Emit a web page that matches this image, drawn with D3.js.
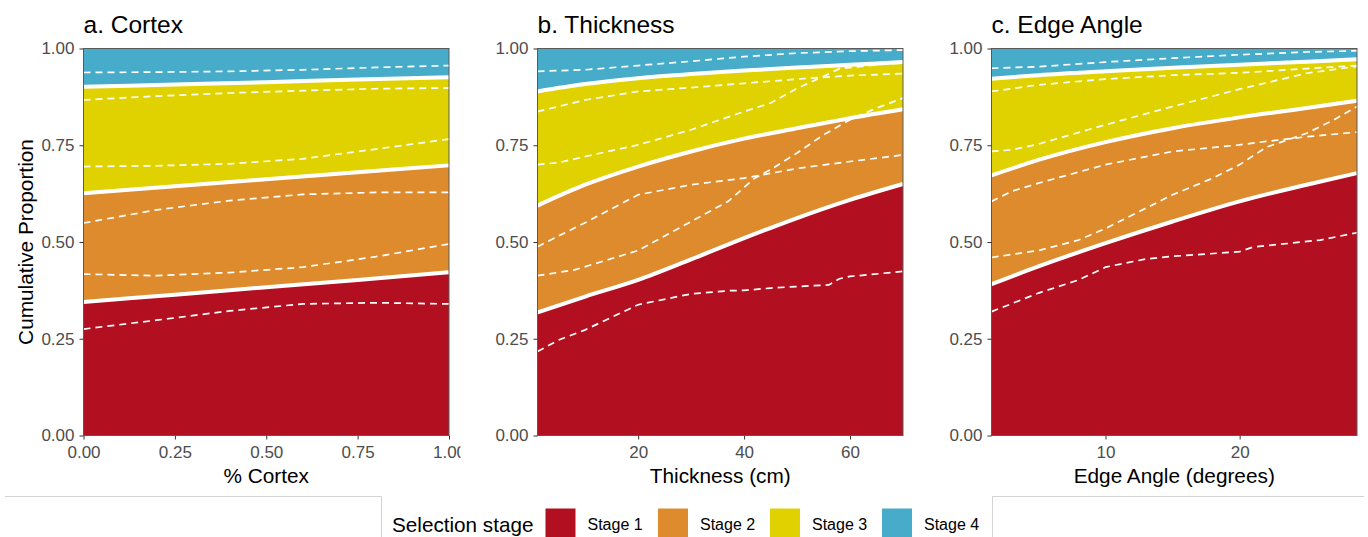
<!DOCTYPE html>
<html>
<head>
<meta charset="utf-8">
<script src="https://cdn.jsdelivr.net/npm/d3@7"></script>
<style>
  body { margin: 0; background: #fff; }
  svg { font-family: "Liberation Sans", Arial, Helvetica, sans-serif; }
  .tick text { fill: #4d4d4d; font-size: 17px; }
  .tick line { stroke: #333; }
</style>
</head>
<body>
<div class="chart"></div>
<script>
// stage names and colours
const stages = ["Stage 1", "Stage 2", "Stage 3", "Stage 4"];
const stageColors = ["#b21020", "#dd8b2c", "#e0d200", "#47acc9"];
const yTicks = [0, 0.25, 0.5, 0.75, 1];

// a. Cortex: fitted cumulative boundaries
const cortexX = [0, 0.25, 0.5, 0.75, 1];
const cortexB1 = [0.345, 0.364, 0.383, 0.402, 0.422];
const cortexB2 = [0.626, 0.644, 0.662, 0.680, 0.698];
const cortexB3 = [0.901, 0.907, 0.913, 0.920, 0.926];
// a. Cortex: dashed interval lines
const cortexDashX = [0, 0.2, 0.4, 0.6, 0.8, 1];
const cortexB1Lo = [0.275, 0.298, 0.322, 0.340, 0.343, 0.340];
const cortexB1Hi = [0.417, 0.413, 0.421, 0.435, 0.462, 0.495];
const cortexB2Lo = [0.549, 0.583, 0.607, 0.623, 0.628, 0.628];
const cortexB2Hi = [0.695, 0.697, 0.702, 0.715, 0.740, 0.766];
const cortexB3Lo = [0.867, 0.877, 0.885, 0.891, 0.896, 0.898];
const cortexB3Hi = [0.938, 0.939, 0.941, 0.945, 0.951, 0.956];

// b. Thickness
const thickX = [1, 10, 20, 30, 40, 50, 60, 70];
const thickB1 = [0.318, 0.359, 0.402, 0.455, 0.510, 0.562, 0.609, 0.650];
const thickB2 = [0.594, 0.648, 0.695, 0.734, 0.767, 0.794, 0.820, 0.843];
const thickB3 = [0.889, 0.908, 0.923, 0.934, 0.943, 0.951, 0.958, 0.965];
const thickB1Lo = [[1,0.217],[5,0.247],[10,0.273],[20,0.338],[30,0.366],[37,0.374],[40,0.375],[45,0.381],[50,0.385],[56,0.389],[58,0.405],[60,0.411],[70,0.424]];
const thickB1Hi = [[1,0.413],[8,0.428],[20,0.478],[30,0.553],[37,0.605],[42,0.665],[45,0.687],[50,0.730],[55,0.777],[60,0.816],[65,0.846],[70,0.872]];
const thickB2Lo = [[1,0.488],[10,0.550],[20,0.622],[30,0.648],[40,0.665],[50,0.690],[60,0.708],[70,0.725]];
const thickB2Hi = [[1,0.700],[5,0.705],[10,0.721],[20,0.751],[30,0.790],[40,0.837],[45,0.859],[50,0.897],[55,0.928],[58,0.948],[65,0.958],[70,0.963]];
const thickB3Lo = [[1,0.837],[10,0.867],[20,0.889],[30,0.899],[40,0.910],[50,0.921],[60,0.930],[70,0.935]];
const thickB3Hi = [[1,0.941],[10,0.945],[20,0.956],[30,0.967],[40,0.979],[50,0.988],[60,0.993],[70,0.996]];

// c. Edge Angle
const angleX = [1.5, 5, 10, 15, 20, 25, 28.75];
const angleB1 = [0.391, 0.437, 0.497, 0.553, 0.605, 0.648, 0.678];
const angleB2 = [0.672, 0.712, 0.758, 0.794, 0.822, 0.846, 0.865];
const angleB3 = [0.922, 0.931, 0.941, 0.950, 0.958, 0.966, 0.972];
const angleB1Lo = [[1.5,0.320],[5,0.368],[8,0.402],[10,0.435],[13,0.456],[15,0.463],[20,0.475],[21,0.487],[23,0.494],[26,0.505],[28.75,0.524]];
const angleB1Hi = [[1.5,0.460],[5,0.478],[8,0.505],[10,0.535],[15,0.622],[18,0.665],[20,0.700],[22,0.745],[25,0.781],[27,0.815],[28.75,0.850]];
const angleB2Lo = [[1.5,0.605],[3,0.631],[5,0.652],[10,0.700],[15,0.734],[20,0.751],[22,0.760],[25,0.772],[28.75,0.784]];
const angleB2Hi = [[1.5,0.734],[3,0.738],[5,0.753],[10,0.803],[15,0.850],[20,0.895],[25,0.936],[28.75,0.954]];
const angleB3Lo = [[1.5,0.889],[5,0.906],[10,0.921],[15,0.931],[20,0.937],[25,0.948],[28.75,0.956]];
const angleB3Hi = [[1.5,0.949],[5,0.953],[10,0.965],[15,0.975],[20,0.984],[25,0.991],[28.75,0.994]];

const zip = (xs, ys) => xs.map((x, i) => [x, ys[i]]);

const panels = [
  { title: "a. Cortex", xlab: "% Cortex", left: 83.5, right: 449, domain: [0, 1],
    xticks: [0, 0.25, 0.5, 0.75, 1], fmt: d3.format(".2f"), clipRight: 460.5,
    fx: cortexX, fit: [cortexB1, cortexB2, cortexB3],
    dashes: [cortexB1Lo, cortexB1Hi, cortexB2Lo, cortexB2Hi, cortexB3Lo, cortexB3Hi].map(v => zip(cortexDashX, v)) },
  { title: "b. Thickness", xlab: "Thickness (cm)", left: 537.5, right: 903, domain: [1, 70],
    xticks: [20, 40, 60], fmt: d3.format("d"), clipRight: 915,
    fx: thickX, fit: [thickB1, thickB2, thickB3],
    dashes: [thickB1Lo, thickB1Hi, thickB2Lo, thickB2Hi, thickB3Lo, thickB3Hi] },
  { title: "c. Edge Angle", xlab: "Edge Angle (degrees)", left: 991.5, right: 1357, domain: [1.5, 28.75],
    xticks: [10, 20], fmt: d3.format("d"), clipRight: 1368,
    fx: angleX, fit: [angleB1, angleB2, angleB3],
    dashes: [angleB1Lo, angleB1Hi, angleB2Lo, angleB2Hi, angleB3Lo, angleB3Hi] }
];

const W = 1368, H = 537;
const plotTop = 48.5, plotBottom = 435.5;

const svg = d3.select(".chart").append("svg")
  .attr("width", W).attr("height", H);

const yScale = d3.scaleLinear().domain([0, 1]).range([plotBottom, plotTop]);

panels.forEach((p, pi) => {
  const xScale = d3.scaleLinear().domain(p.domain).range([p.left, p.right]);
  const g = svg.append("g");

  // each panel's viewport clips its own x labels (as in the original layout)
  svg.append("clipPath")
    .attr("id", "clip" + pi)
    .append("rect")
    .attr("x", 0).attr("y", 0)
    .attr("width", p.clipRight).attr("height", H);

  // stacked bands: 0 -> B1 -> B2 -> B3 -> 1
  const lows = [p.fx.map(() => 0), ...p.fit];
  const highs = [...p.fit, p.fx.map(() => 1)];
  const area = d3.area()
    .x(d => xScale(d.x))
    .y0(d => yScale(d.lo))
    .y1(d => yScale(d.hi))
    .curve(d3.curveMonotoneX);

  stages.forEach((s, i) => {
    const rows = p.fx.map((x, j) => ({ x: x, lo: lows[i][j], hi: highs[i][j] }));
    g.append("path")
      .datum(rows)
      .attr("fill", stageColors[i])
      .attr("d", area);
  });

  // dashed interval lines
  const dline = d3.line()
    .x(d => xScale(d[0]))
    .y(d => yScale(d[1]));
  p.dashes.forEach(ds => {
    g.append("path")
      .datum(ds)
      .attr("fill", "none")
      .attr("stroke", "white")
      .attr("stroke-width", 1.7)
      .attr("stroke-dasharray", "7,5")
      .attr("d", dline);
  });

  // fitted boundaries
  const fline = d3.line()
    .x(d => xScale(d[0]))
    .y(d => yScale(d[1]))
    .curve(d3.curveMonotoneX);
  p.fit.forEach(b => {
    g.append("path")
      .datum(zip(p.fx, b))
      .attr("fill", "none")
      .attr("stroke", "white")
      .attr("stroke-width", 4)
      .attr("d", fline);
  });

  // panel border
  g.append("rect")
    .attr("x", p.left).attr("y", plotTop)
    .attr("width", p.right - p.left).attr("height", plotBottom - plotTop)
    .attr("fill", "none")
    .attr("stroke", "#5a5a5a")
    .attr("stroke-width", 1);

  // axes
  const xAxis = d3.axisBottom(xScale).tickValues(p.xticks).tickFormat(p.fmt)
    .tickSize(4).tickPadding(6.5);
  g.append("g")
    .attr("transform", `translate(0, ${plotBottom})`)
    .attr("clip-path", `url(#clip${pi})`)
    .call(xAxis)
    .call(a => a.select(".domain").remove());

  const yAxis = d3.axisLeft(yScale).tickValues(yTicks).tickFormat(d3.format(".2f"))
    .tickSize(4).tickPadding(5);
  g.append("g")
    .attr("transform", `translate(${p.left}, 0)`)
    .call(yAxis)
    .call(a => a.select(".domain").remove());

  // titles
  g.append("text")
    .attr("x", p.left)
    .attr("y", 32.5)
    .attr("font-size", 24.5)
    .attr("fill", "black")
    .text(p.title);

  g.append("text")
    .attr("x", (p.left + p.right) / 2)
    .attr("y", 482.5)
    .attr("text-anchor", "middle")
    .attr("font-size", 20.8)
    .attr("fill", "black")
    .text(p.xlab);
});

// y axis label
svg.append("text")
  .attr("transform", `translate(33, ${(plotTop + plotBottom) / 2}) rotate(-90)`)
  .attr("text-anchor", "middle")
  .attr("font-size", 20.8)
  .text("Cumulative Proportion");

// legend frame
svg.append("path")
  .attr("d", "M5,496.5H381.5V537 M992.5,537V496.5H1364")
  .attr("fill", "none")
  .attr("stroke", "#d4d4d4")
  .attr("stroke-width", 1);

const legend = svg.append("g");
legend.append("text")
  .attr("x", 392)
  .attr("y", 531.5)
  .attr("font-size", 20.7)
  .text("Selection stage");

const keyX = [545.5, 658, 770, 882];
stages.forEach((s, i) => {
  legend.append("rect")
    .attr("x", keyX[i]).attr("y", 508.5)
    .attr("width", 30).attr("height", 30)
    .attr("fill", stageColors[i]);
  legend.append("text")
    .attr("x", keyX[i] + 42)
    .attr("y", 530)
    .attr("font-size", 16)
    .text(s);
});
</script>
</body>
</html>
